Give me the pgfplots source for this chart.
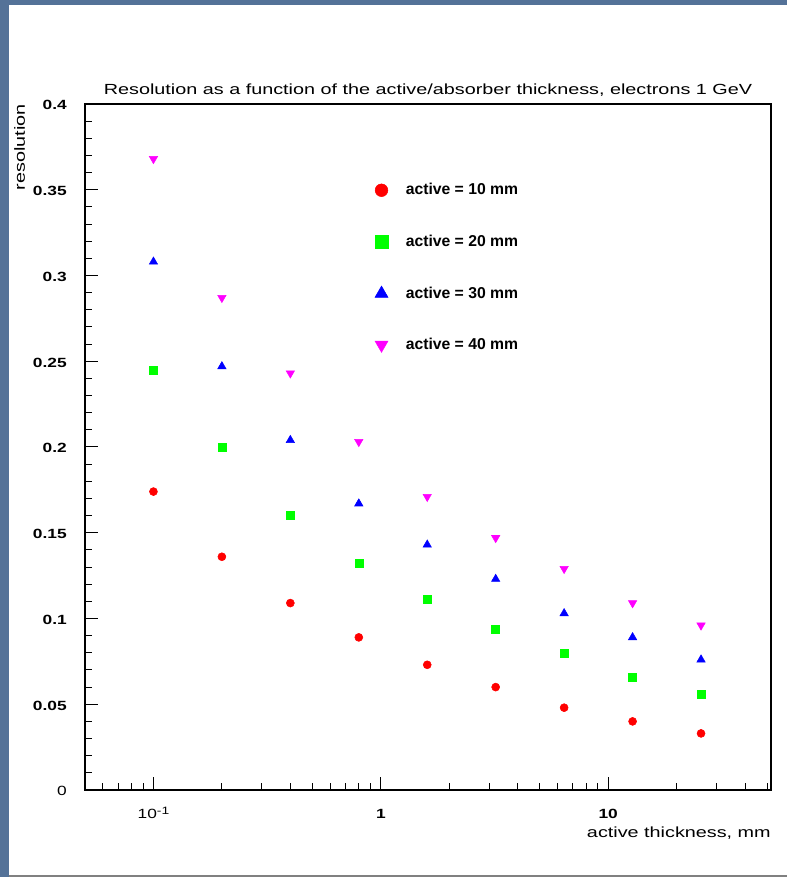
\documentclass[border=0pt]{standalone}
\usepackage{fontspec}
\setmainfont{Liberation Sans}
\newfontfamily\rootfont[FakeStretch=1.35]{Liberation Sans}
\newfontfamily\tickfont[FakeStretch=1.3]{Liberation Sans}
\usepackage{pgfplots}
\usepackage{pgfplotstable}
\pgfplotsset{compat=1.18}
\definecolor{bgblue}{RGB}{84,114,152}
\definecolor{rootred}{RGB}{255,0,0}
\definecolor{rootgreen}{RGB}{0,255,0}
\definecolor{rootblue}{RGB}{0,0,255}
\definecolor{rootmagenta}{RGB}{255,0,255}

% resolution vs active thickness (mm), one table per active layer
\pgfplotstableread{
x     y
0.1   0.174
0.2   0.136
0.4   0.109
0.8   0.089
1.6   0.073
3.2   0.060
6.4   0.048
12.8  0.040
25.6  0.033
}\tenmm
\pgfplotstableread{
x     y
0.1   0.245
0.2   0.200
0.4   0.160
0.8   0.132
1.6   0.111
3.2   0.094
6.4   0.080
12.8  0.066
25.6  0.056
}\twentymm
\pgfplotstableread{
x     y
0.1   0.308
0.2   0.247
0.4   0.204
0.8   0.167
1.6   0.143
3.2   0.123
6.4   0.103
12.8  0.089
25.6  0.076
}\thirtymm
\pgfplotstableread{
x     y
0.1   0.368
0.2   0.287
0.4   0.243
0.8   0.203
1.6   0.171
3.2   0.147
6.4   0.129
12.8  0.109
25.6  0.096
}\fortymm

\begin{document}
\begin{tikzpicture}
% canvas: blue frame, white pad
\fill[bgblue] (-63.75pt,-65.25pt) rectangle (526.5pt,592.5pt);
\fill[white] (-57pt,-63.75pt) rectangle (526.5pt,588.75pt);
\fill[gray] (-57pt,-65.25pt) rectangle (526.5pt,-63.75pt);

\begin{axis}[
    at={(0,0)}, anchor=south west,
    scale only axis,
    width=514.5pt, height=514.5pt,
    xmode=log,
    xmin=0.05, xmax=52,
    ymin=0, ymax=0.4,
    axis line style={line width=1.5pt},
    tick style={line width=0.75pt, black},
    major tick length=9.4pt,
    minor tick length=4.9pt,
    tick align=inside,
    xtick pos=bottom, ytick pos=left,
    xtick={0.1,1,10},
    xticklabels={{\mdseries 10\raisebox{0.55ex}{\fontsize{8}{9}\selectfont -1}},1,10},
    minor xtick={0.06,0.07,0.08,0.09,0.2,0.3,0.4,0.5,0.6,0.7,0.8,0.9,2,3,4,5,6,7,8,9,20,30,40,50},
    ytick={0,0.05,0.1,0.15,0.2,0.25,0.3,0.35,0.4},
    yticklabels={{\mdseries 0},0.05,0.1,0.15,0.2,0.25,0.3,0.35,0.4},
    minor y tick num=4,
    xticklabel style={font=\tickfont\bfseries\fontsize{10}{11}\selectfont, anchor=base, inner sep=0pt, yshift=-21pt},
    yticklabel style={font=\tickfont\bfseries\fontsize{10}{11}\selectfont, anchor=base east, inner sep=0pt, xshift=-13.5pt, yshift=-4.5pt},
    title={Resolution as a function of the active/absorber thickness, electrons 1 GeV},
    title style={font=\rootfont\fontsize{11}{13}\selectfont, at={(axis description cs:0.5,1)}, anchor=base, yshift=0.75pt, inner sep=0pt},
    xlabel={active thickness, mm},
    xlabel style={font=\rootfont\fontsize{11}{13}\selectfont, at={(axis description cs:1,0)}, anchor=base east, yshift=-35.25pt, inner sep=0pt},
    ylabel={resolution},
    ylabel style={font=\rootfont\fontsize{11}{13}\selectfont, at={([xshift=-45pt]axis description cs:0,1)}, anchor=base east, inner sep=0pt},
    legend image code/.code={\path (-6pt,0pt) (6pt,0pt); \draw[#1] plot coordinates {(0pt,0pt)};},
    legend cell align=left,
    legend style={draw=none, fill=none, at={(axis description cs:0.4198,0.8844)}, anchor=north west,
        font=\bfseries\fontsize{11.8}{13}\selectfont, row sep=28.4pt, inner sep=0pt,
        nodes={inner sep=0pt},
        /tikz/every odd column/.append style={column sep=12pt}},
]
\addplot[forget plot, only marks, mark=*, mark size=3pt, rootred] table {\tenmm};
\addplot[forget plot, only marks, mark=square*, mark size=3pt, rootgreen] table {\twentymm};
\addplot[forget plot, only marks, mark=triangle*, mark size=3.6pt, rootblue] table {\thirtymm};
\addplot[forget plot, only marks, mark=triangle*, mark options={rotate=180}, mark size=3.6pt, rootmagenta] table {\fortymm};

\addlegendimage{mark=*, mark size=4.75pt, rootred}
\addlegendentry{active = 10 mm}
\addlegendimage{mark=square*, mark size=4.75pt, rootgreen}
\addlegendentry{active = 20 mm}
\addlegendimage{mark=triangle*, mark size=5.6pt, rootblue}
\addlegendentry{active = 30 mm}
\addlegendimage{mark=triangle*, mark options={rotate=180}, mark size=5.6pt, rootmagenta}
\addlegendentry{active = 40 mm}
\end{axis}
\pgfresetboundingbox
\path[use as bounding box] (-63.75pt,-65.25pt) rectangle (526.5pt,592.5pt);
\end{tikzpicture}
\end{document}
